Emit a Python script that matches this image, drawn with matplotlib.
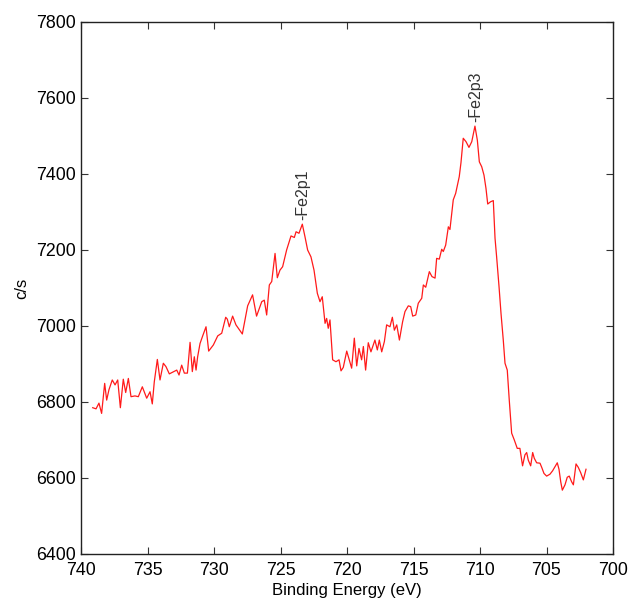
import matplotlib
matplotlib.use("Agg")
import matplotlib.pyplot as plt

plt.rcParams['font.family'] = ['Liberation Sans', 'DejaVu Sans']

binding_energy = [
    739.12, 738.87, 738.65, 738.45, 738.22, 738.07, 737.90, 737.65, 737.44, 737.24,
    737.04, 736.82, 736.64, 736.44, 736.24, 735.94, 735.69, 735.39, 735.06, 734.81,
    734.64, 734.49, 734.26, 734.06, 733.81, 733.61, 733.36, 732.80, 732.63, 732.43,
    732.23, 732.00, 731.80, 731.63, 731.48, 731.35, 731.23, 731.05, 730.85, 730.60,
    730.40, 730.05, 729.72, 729.42, 729.12, 729.00, 728.85, 728.60, 728.35, 727.87,
    727.47, 727.10, 726.80, 726.41, 726.22, 726.04, 725.84, 725.66, 725.41, 725.24,
    725.04, 724.84, 724.54, 724.21, 723.96, 723.83, 723.61, 723.36, 723.16, 722.96,
    722.71, 722.48, 722.23, 722.03, 721.86, 721.65, 721.53, 721.41, 721.28, 721.08,
    720.83, 720.60, 720.45, 720.28, 720.02, 719.83, 719.65, 719.45, 719.27, 719.10,
    718.90, 718.77, 718.60, 718.40, 718.20, 717.90, 717.72, 717.57, 717.39, 717.19,
    717.02, 716.77, 716.59, 716.44, 716.26, 716.06, 715.82, 715.64, 715.39, 715.21,
    715.06, 714.83, 714.64, 714.38, 714.26, 714.08, 713.81, 713.61, 713.38, 713.26,
    713.06, 712.88, 712.76, 712.58, 712.38, 712.26, 712.01, 711.83, 711.56, 711.43,
    711.26, 711.05, 710.83, 710.62, 710.38, 710.20, 710.05, 709.87, 709.70, 709.55,
    709.42, 709.20, 709.00, 708.87, 708.75, 708.57, 708.42, 708.25, 708.12, 707.95,
    707.80, 707.62, 707.42, 707.20, 707.00, 706.80, 706.62, 706.49, 706.37, 706.19,
    706.04, 705.92, 705.74, 705.49, 705.36, 705.19, 704.99, 704.74, 704.54, 704.36,
    704.19, 704.06, 703.93, 703.81, 703.61, 703.44, 703.29, 703.11, 702.98, 702.78,
    702.61, 702.43, 702.23, 702.03,
]
counts = [
    6785, 6782, 6797, 6770, 6849, 6805, 6832, 6858, 6845, 6858,
    6785, 6860, 6825, 6862, 6814, 6816, 6814, 6840, 6810, 6827,
    6795, 6853, 6912, 6858, 6902, 6893, 6874, 6884, 6871, 6897,
    6876, 6876, 6957, 6880, 6919, 6884, 6919, 6954, 6974, 6998,
    6934, 6950, 6974, 6981, 7023, 7018, 6998, 7026, 7003, 6979,
    7053, 7082, 7026, 7064, 7068, 7029, 7108, 7117, 7191, 7127,
    7147, 7156, 7200, 7237, 7233, 7248, 7244, 7268, 7235, 7200,
    7182, 7147, 7086, 7064, 7077, 7007, 7020, 6994, 7016, 6911,
    6906, 6911, 6882, 6891, 6934, 6911, 6889, 6968, 6895, 6941,
    6911, 6946, 6884, 6956, 6932, 6963, 6937, 6963, 6932, 6959,
    7003, 6998, 7023, 6989, 7003, 6963, 7011, 7038, 7053, 7051,
    7026, 7029, 7060, 7073, 7108, 7102, 7143, 7130, 7126, 7178,
    7176, 7202, 7196, 7213, 7261, 7254, 7332, 7349, 7393, 7430,
    7494, 7485, 7470, 7485, 7526, 7489, 7432, 7419, 7397, 7362,
    7321, 7327, 7330, 7231, 7182, 7104, 7033, 6963, 6902, 6884,
    6805, 6718, 6700, 6678, 6678, 6632, 6661, 6667, 6647, 6632,
    6667, 6652, 6640, 6639, 6628, 6612, 6605, 6610, 6619, 6630,
    6640, 6623, 6590, 6568, 6582, 6602, 6605, 6590, 6582, 6637,
    6628, 6614, 6595, 6623,
]

peak_names = ['-Fe2p1', '-Fe2p3']
peak_energy = [723.3, 710.3]
peak_counts = [7268, 7526]

x_ticks = [740, 735, 730, 725, 720, 715, 710, 705, 700]
y_ticks = [6400, 6600, 6800, 7000, 7200, 7400, 7600, 7800]

fig = plt.figure(figsize=(6.29, 6.0), dpi=100)
ax = fig.add_axes([81/629, 46/600, 532/629, 532/600])

ax.plot(binding_energy, counts, color='#ff1a1a', lw=0.9)

for name, xe, yc in zip(peak_names, peak_energy, peak_counts):
    ax.text(xe, yc + 10, name, rotation=90, ha='center', va='bottom',
            fontsize=11.5, color='#333333')

ax.set_xlim(740, 700)
ax.set_ylim(6400, 7800)
ax.set_xticks(x_ticks)
ax.set_yticks(y_ticks)
ax.tick_params(direction='in', length=5, width=0.8, colors='#333333',
               labelcolor='black', labelsize=12.8, pad=3.5,
               top=True, right=True)
ax.tick_params(axis='x', pad=6)
for s in ax.spines.values():
    s.set_linewidth(1.0)
    s.set_color('#222222')

ax.set_xlabel('Binding Energy (eV)', fontsize=12, labelpad=3)
ax.set_ylabel('c/s', fontsize=12, labelpad=5)

fig.savefig('out.png', dpi=100, facecolor='white')
